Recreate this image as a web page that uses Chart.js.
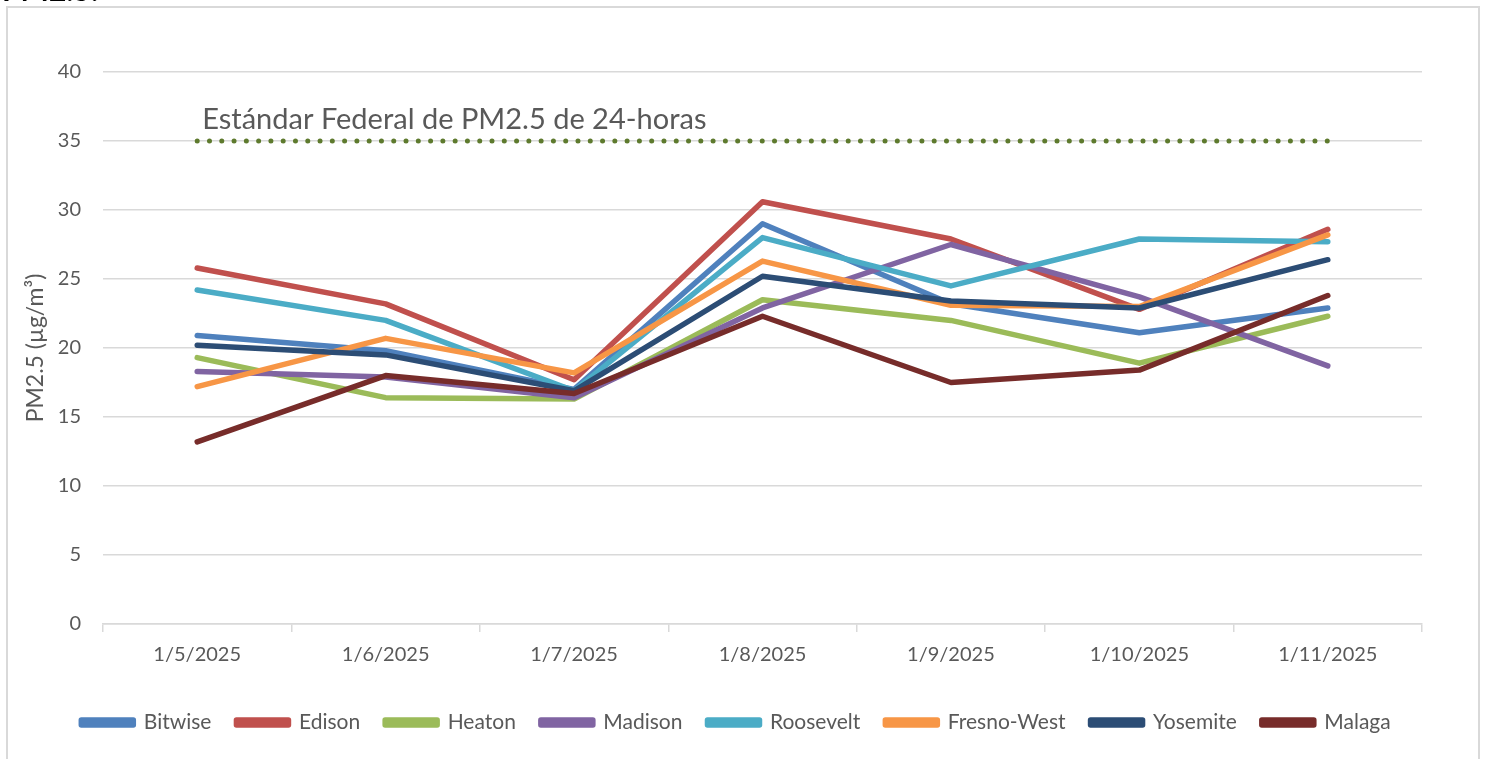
<!DOCTYPE html>
<html>
<head>
<meta charset="utf-8">
<script src="https://cdn.jsdelivr.net/npm/chart.js@4.4.1/dist/chart.umd.min.js"></script>
<style>
  html, body { margin: 0; padding: 0; background: #fff; }
  #wrap { width: 1485px; height: 759px; position: relative; }
</style>
</head>
<body>
<div id="wrap"><canvas id="pm25" width="1485" height="759"></canvas></div>
<script>
const fechas = ['1/5/2025', '1/6/2025', '1/7/2025', '1/8/2025', '1/9/2025', '1/10/2025', '1/11/2025'];
const yTicks = [0, 5, 10, 15, 20, 25, 30, 35, 40];

const bitwise    = [20.9, 19.8, 17.0, 29.0, 23.2, 21.1, 22.9];
const edison     = [25.8, 23.2, 17.7, 30.6, 27.9, 22.8, 28.6];
const heaton     = [19.3, 16.4, 16.3, 23.5, 22.0, 18.9, 22.3];
const madison    = [18.3, 17.9, 16.4, 22.9, 27.5, 23.7, 18.7];
const roosevelt  = [24.2, 22.0, 16.9, 28.0, 24.5, 27.9, 27.7];
const fresnoWest = [17.2, 20.7, 18.2, 26.3, 23.1, 23.0, 28.2];
const yosemite   = [20.2, 19.5, 16.9, 25.2, 23.4, 22.9, 26.4];
const malaga     = [13.2, 18.0, 16.7, 22.3, 17.5, 18.4, 23.8];
const estandar   = [35, 35, 35, 35, 35, 35, 35];

const series = [
  ['Bitwise', bitwise, '#4F81BD'],
  ['Edison', edison, '#C0504D'],
  ['Heaton', heaton, '#9BBB59'],
  ['Madison', madison, '#8064A2'],
  ['Roosevelt', roosevelt, '#4BACC6'],
  ['Fresno-West', fresnoWest, '#F79646'],
  ['Yosemite', yosemite, '#2C4D75'],
  ['Malaga', malaga, '#772C2A']
];

const textGray = '#595959';
const gridGray = '#D9D9D9';
const fontFam = 'Lato, "Noto Sans", sans-serif';

const datasets = series.map((s, i) => ({
  label: s[0],
  data: s[1],
  borderColor: s[2],
  backgroundColor: s[2],
  borderWidth: 5.5,
  pointRadius: 0,
  borderCapStyle: 'round',
  borderJoinStyle: 'round',
  tension: 0,
  order: 20 - i
}));

datasets.push({
  label: 'Estándar Federal de PM2.5 de 24-horas',
  data: estandar,
  borderColor: '#5E7A2E',
  borderWidth: 5,
  borderDash: [0, 12.283],
  borderCapStyle: 'round',
  pointRadius: 0,
  order: 0
});

// frame, cut-off title, y title and the standard label
const extras = {
  id: 'extras',
  beforeDraw(chart) {
    const ctx = chart.ctx;
    ctx.save();
    ctx.strokeStyle = gridGray;
    ctx.lineWidth = 2;
    ctx.strokeRect(7, 7, 1472, 770);
    ctx.fillStyle = '#000';
    ctx.font = 'bold 30px ' + fontFam;
    ctx.textBaseline = 'alphabetic';
    ctx.fillText('PM2.5:', 2, 1);

    const area = chart.chartArea;
    ctx.translate(36, (area.top + area.bottom) / 2);
    ctx.rotate(-Math.PI / 2);
    ctx.fillStyle = textGray;
    ctx.font = '23px ' + fontFam;
    ctx.textAlign = 'center';
    ctx.textBaseline = 'middle';
    ctx.fillText('PM2.5 (µg/m³)', 0, 0);
    ctx.restore();
  },
  afterDatasetsDraw(chart) {
    const ctx = chart.ctx;
    const x = chart.scales.x.getPixelForValue(0);
    const y = chart.scales.y.getPixelForValue(35);
    ctx.save();
    ctx.fillStyle = textGray;
    ctx.font = '29px ' + fontFam;
    ctx.textBaseline = 'alphabetic';
    ctx.fillText('Estándar Federal de PM2.5 de 24-horas', x + 5, y - 12);
    ctx.restore();
  }
};

new Chart(document.getElementById('pm25'), {
  type: 'line',
  data: { labels: fechas, datasets: datasets },
  plugins: [extras],
  options: {
    responsive: false,
    animation: false,
    layout: { padding: { left: 50, right: 63, top: 72, bottom: 16 } },
    plugins: {
      tooltip: { enabled: false },
      legend: {
        position: 'bottom',
        labels: {
          boxWidth: 52,
          boxHeight: 5,
          padding: 25,
          color: textGray,
          font: { family: fontFam, size: 21 },
          filter: (item) => item.datasetIndex < series.length,
          sort: (a, b) => a.datasetIndex - b.datasetIndex
        }
      }
    },
    scales: {
      x: {
        offset: true,
        grid: {
          offset: true,
          drawOnChartArea: false,
          color: gridGray,
          lineWidth: 1.5,
          tickLength: 8
        },
        border: { color: gridGray, width: 1.5 },
        ticks: {
          color: textGray,
          font: { family: fontFam, size: 20 },
          maxRotation: 0,
          padding: 11
        },
        afterFit: (s) => { s.height = 63; }
      },
      y: {
        min: 0,
        max: 40,
        afterBuildTicks: (s) => { s.ticks = yTicks.map(v => ({ value: v })); },
        grid: { color: gridGray, lineWidth: 1.5, drawTicks: false },
        border: { display: false },
        ticks: {
          color: textGray,
          font: { family: fontFam, size: 20 },
          padding: 22
        },
        afterFit: (s) => { s.width = 53; }
      }
    }
  }
});
</script>
</body>
</html>
